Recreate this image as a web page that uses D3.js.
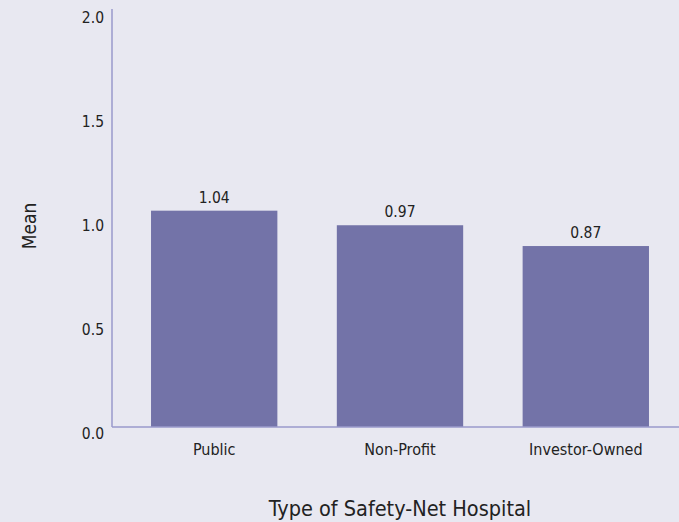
<!DOCTYPE html>
<html>
<head>
<meta charset="utf-8">
<script src="https://cdn.jsdelivr.net/npm/d3@7"></script>
<style>
body { margin: 0; background: #e8e8f1; }
svg { display: block; }
text { font-family: 'DejaVu Sans Condensed', 'DejaVu Sans', sans-serif; font-stretch: condensed; fill: #222; }
</style>
</head>
<body>
<svg id="chart"></svg>
<script>
var categories = ["Public", "Non-Profit", "Investor-Owned"];
var means = [1.04, 0.97, 0.87];
var yTicks = [0, 0.5, 1.0, 1.5, 2.0];

var width = 679, height = 522;
var svg = d3.select("#chart")
    .attr("width", width)
    .attr("height", height)
    .style("background", "#e8e8f1");

var x = d3.scaleBand()
    .domain(categories)
    .range([112, 688])
    .paddingInner(0.32)
    .paddingOuter(0.21);

var y = d3.scaleLinear()
    .domain([0, 2])
    .range([427, 11]);

// bars
svg.append("g")
    .selectAll("rect")
    .data(means)
    .join("rect")
    .attr("x", (d, i) => x(categories[i]))
    .attr("y", d => y(d))
    .attr("width", x.bandwidth())
    .attr("height", d => y(0) - y(d))
    .attr("fill", "#7373a8");

// value labels
svg.append("g")
    .selectAll("text")
    .data(means)
    .join("text")
    .attr("x", (d, i) => x(categories[i]) + x.bandwidth() / 2)
    .attr("y", d => y(d) - 8)
    .attr("text-anchor", "middle")
    .style("font-size", "15.5px")
    .text(d => d.toFixed(2));

// y axis
var yAxis = svg.append("g")
    .attr("transform", "translate(112,0)")
    .call(d3.axisLeft(y).tickValues(yTicks).tickFormat(d3.format(".1f")).tickSize(0).tickPadding(8));
yAxis.select(".domain").attr("stroke", "#9a9acb").attr("stroke-width", 1.5).attr("d", "M0,9V427");
yAxis.selectAll("text")
    .attr("dy", "0.72em")
    .attr("fill", null)
    .style("font-size", "15.5px");

// x axis
var xAxis = svg.append("g")
    .attr("transform", "translate(0,427)")
    .call(d3.axisBottom(x).tickSize(0).tickPadding(17));
xAxis.select(".domain").attr("stroke", "#9a9acb").attr("stroke-width", 1.5).attr("d", "M112,0H679");
xAxis.selectAll("text")
    .attr("fill", null)
    .style("font-size", "16px");
xAxis.attr("font-family", null).attr("font-size", null);
yAxis.attr("font-family", null).attr("font-size", null);

// axis titles
svg.append("text")
    .attr("x", 400)
    .attr("y", 516)
    .attr("text-anchor", "middle")
    .style("font-size", "21.5px")
    .text("Type of Safety-Net Hospital");

svg.append("text")
    .attr("transform", "translate(36,226) rotate(-90)")
    .attr("text-anchor", "middle")
    .style("font-size", "19px")
    .text("Mean");
</script>
</body>
</html>
